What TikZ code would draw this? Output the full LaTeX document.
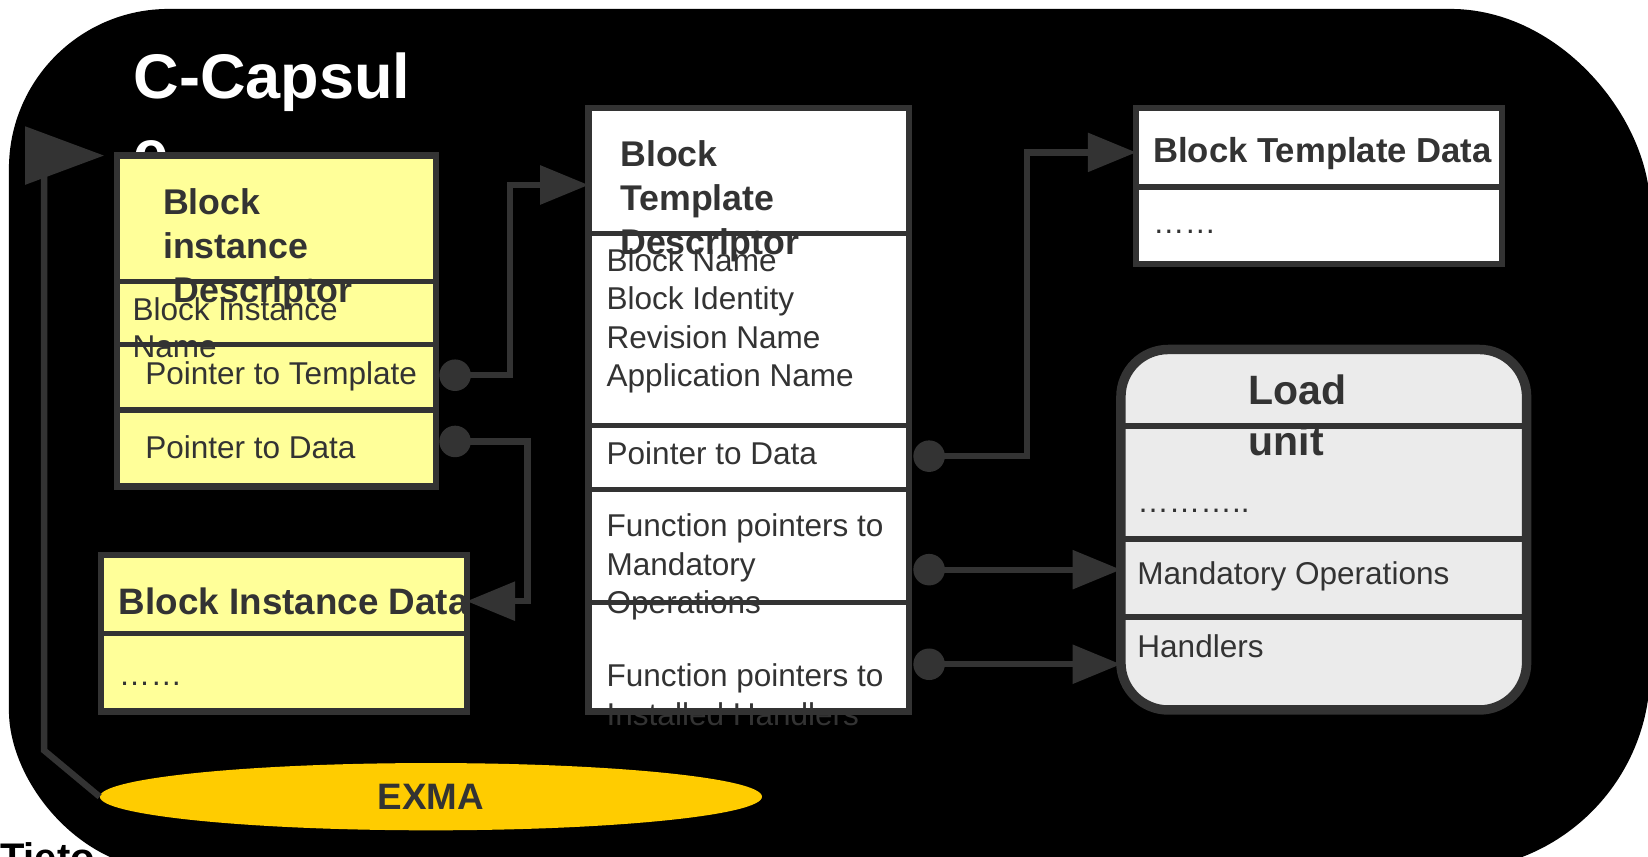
\documentclass[tikz,border=0pt]{standalone}
\usepackage{fontspec}
\setmainfont{Liberation Sans}
\usetikzlibrary{arrows.meta,shapes.geometric}
\definecolor{dk}{HTML}{333333}
\definecolor{ylw}{HTML}{FFFF99}
\definecolor{lgr}{HTML}{EBEBEB}
\definecolor{gold}{HTML}{FFCC00}
\begin{document}
\begin{tikzpicture}[x=1pt,y=-1pt,
  box/.style={draw=dk, line width=6pt, inner sep=0pt, outer sep=0pt},
  div/.style={draw=dk, line width=5pt},
  txt/.style={anchor=base west, inner sep=0pt, text=dk, font=\fontsize{30}{36.7}\selectfont, align=left},
  ttl/.style={txt, font=\fontsize{34}{42}\selectfont\bfseries},
  dot/.style={circle, fill=dk, minimum size=30pt, inner sep=0pt},
  conn/.style={draw=dk, line width=6pt},
  arr/.style={conn, -{Triangle[length=46pt,width=36pt]}},
]
\useasboundingbox (0,0) rectangle (1568,815);
% capsule background
\fill[black] (8.5,160.5) .. controls (8.5,76.5) and (76.5,8.5) .. (160.5,8.5)
  -- (1380,8.5) .. controls (1485,8.5) and (1570,113.5) .. (1570,198.5)
  -- (1570,638) .. controls (1570,743) and (1485,828) .. (1380,828)
  -- (160.5,828) .. controls (76.5,828) and (8.5,744) .. (8.5,676) -- cycle;
\node[anchor=base west, inner sep=0pt, font=\fontsize{38}{40}\selectfont\bfseries] (tieto) at (0,829) {Tieto};
\node[anchor=base west, inner sep=0pt, text=white, align=left,
  font=\fontsize{60}{72}\selectfont\bfseries] (cap) at (127,166) {C-Capsul\\e};

% Block instance Descriptor
\node[box, fill=ylw, minimum width=304pt, minimum height=315pt] (bid) at (263,305.5) {};
\node[ttl] (bidT) at (155,288) {Block\\instance\\\hspace*{10pt}Descriptor};
\node[txt, font=\fontsize{30}{35}\selectfont] (bidN) at (126,340) {Block Instance\\Name};
\node[txt] (bidPT) at (138,366) {Pointer to Template};
\node[txt] (bidPD) at (138,436) {Pointer to Data};
\draw[div] (bid.west |- 0,268) -- (bid.east |- 0,268);
\draw[div] (bid.west |- 0,328) -- (bid.east |- 0,328);
\draw[div] (bid.west |- 0,390) -- (bid.east |- 0,390);

% Block Instance Data
\node[box, fill=ylw, minimum width=348pt, minimum height=149pt] (bidata) at (270,602.5) {};
\node[ttl, font=\fontsize{35}{42}\selectfont\bfseries] (bidataT) at (113,585) {Block Instance Data};
\node[txt] (bidataD) at (113,652) {……};
\draw[div] (bidata.west |- 0,603) -- (bidata.east |- 0,603);

% Block Template Descriptor
\node[box, fill=white, minimum width=305pt, minimum height=574pt] (btd) at (712.5,390) {};
\node[ttl] (btdT) at (590,242) {Block\\Template\\Descriptor};
\node[txt] (btdN) at (577,368) {Block Name\\Block Identity\\Revision Name\\Application Name};
\node[txt] (btdPD) at (577,442) {Pointer to Data};
\node[txt] (btdMO) at (577,584) {Function pointers to\\Mandatory\\Operations};
\node[txt] (btdIH) at (577,690) {Function pointers to\\Installed Handlers};
\draw[div] (btd.west |- 0,222) -- (btd.east |- 0,222);
\draw[div] (btd.west |- 0,405) -- (btd.east |- 0,405);
\draw[div] (btd.west |- 0,466) -- (btd.east |- 0,466);
\draw[div] (btd.west |- 0,573) -- (btd.east |- 0,573);
\draw[box, fill=none] (btd.south west) rectangle (btd.north east);

% Block Template Data
\node[box, fill=white, minimum width=348pt, minimum height=148pt] (btdata) at (1255,177) {};
\node[ttl, font=\fontsize{33}{40}\selectfont\bfseries] (btdataT) at (1097,155) {Block Template Data};
\node[txt] (btdataD) at (1097,222) {……};
\draw[div] (btdata.west |- 0,178) -- (btdata.east |- 0,178);

% Load unit
\node[box, line width=9pt, fill=lgr, rounded corners=45pt, minimum width=386pt, minimum height=343pt] (lu) at (1259.5,504) {};
\node[ttl, font=\fontsize{39}{48}\selectfont\bfseries] (luT) at (1188,433) {Load\\unit};
\node[txt] (luD) at (1082,488) {………..};
\node[txt] (luMO) at (1082,556) {Mandatory Operations};
\node[txt] (luH) at (1082,626) {Handlers};
\draw[div, line width=6pt] (lu.west |- 0,405) -- (lu.east |- 0,405);
\draw[div, line width=6pt] (lu.west |- 0,513) -- (lu.east |- 0,513);
\draw[div, line width=6pt] (lu.west |- 0,587) -- (lu.east |- 0,587);

% EXMA
\node[ellipse, fill=gold, inner sep=0pt, minimum width=630pt, minimum height=64pt,
  text=dk, font=\fontsize{35}{40}\selectfont\bfseries] (exma) at (410,758) {EXMA};

% pointer dots
\node[dot] (c1) at (433,357) {};
\node[dot] (c2) at (433,420) {};
\node[dot] (c3) at (884,434) {};
\node[dot] (c4) at (884,542) {};
\node[dot] (c5) at (884,632) {};

% connectors
\draw[arr] (c1.center) -- (485,357) -- (485,176) -- (btd.west |- 0,176);
\draw[arr] (c2.center) -- (502,420) -- (502,572) -- (bidata.east |- 0,572);
\draw[arr] (c3.center) -- (977,434) -- (977,145) -- (btdata.west |- 0,145);
\draw[arr] (c4.center) -- (lu.west |- c4);
\draw[arr] (c5.center) -- (lu.west |- c5);
\draw[conn, -{Triangle[length=75pt,width=54pt]}, shorten >=12pt] (exma.west) -- (42,714) -- (42,148) -- (bid.west |- 0,148);
\end{tikzpicture}
\end{document}
